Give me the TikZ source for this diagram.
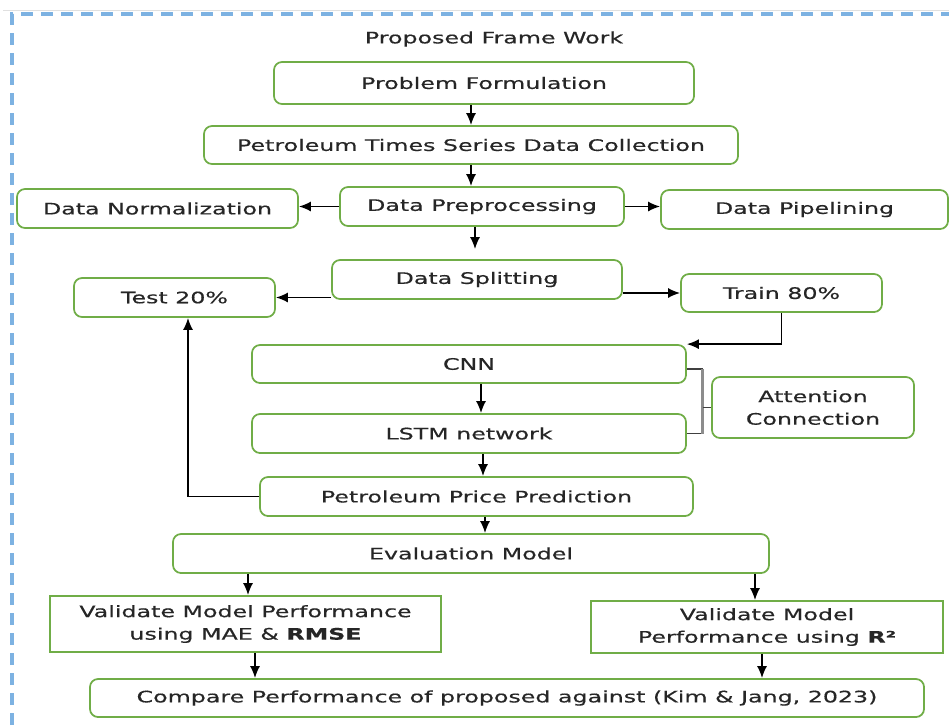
\documentclass[tikz,border=0pt]{standalone}
\usepackage{fontspec}
\setmainfont{DejaVu Sans}[FakeStretch=1.5,FakeBold=0.5]
\usetikzlibrary{arrows.meta}
\definecolor{boxgreen}{RGB}{112,173,71}
\definecolor{frameblue}{RGB}{125,178,226}
\definecolor{textgrey}{RGB}{38,38,38}
\begin{document}
\begin{tikzpicture}[x=0.2mm,y=-0.2mm,
    font=\fontsize{9}{12.8}\selectfont,text=textgrey,
    rbox/.style={draw=boxgreen,line width=0.35mm,rounded corners=1.6mm,inner sep=0pt,align=center},
    sbox/.style={draw=boxgreen,line width=0.35mm,inner sep=0pt,align=center},
    flow/.style={-{Latex[length=2.4mm,width=2mm]},line width=0.32mm},
    brace/.style={line width=0.3mm,draw=black!75}]
  \useasboundingbox (0,0) rectangle (949,725);
  \draw[black!12,line width=0.2mm] (3,10) -- (949,10);
  \draw[frameblue,line width=0.65mm,dash pattern=on 2.4mm off 1.6mm] (12,725) -- (12,14) -- (949,14);
  \node (title) at (494,39) {Proposed Frame Work};
  \node[rbox,minimum width=84mm,minimum height=8.4mm] (pf) at (484,83) {Problem Formulation};
  \node[rbox,minimum width=106.8mm,minimum height=7.6mm] (coll) at (471,145) {Petroleum Times Series Data Collection};
  \node[rbox,minimum width=56.2mm,minimum height=7.8mm] (norm) at (157.5,208.5) {Data Normalization};
  \node[rbox,minimum width=56.8mm,minimum height=7.8mm] (prep) at (482,206.5) {Data Preprocessing};
  \node[rbox,minimum width=57.4mm,minimum height=7.8mm] (pipe) at (804.5,209.5) {Data Pipelining};
  \node[rbox,minimum width=58mm,minimum height=7.8mm] (split) at (477,279.5) {Data Splitting};
  \node[rbox,minimum width=40.2mm,minimum height=7.8mm] (test) at (174.5,297.5) {Test 20\%};
  \node[rbox,minimum width=40.2mm,minimum height=7.6mm] (train) at (781.5,293) {Train 80\%};
  \node[rbox,minimum width=86.8mm,minimum height=7.6mm] (cnn) at (469,364) {CNN};
  \node[rbox,minimum width=86.8mm,minimum height=7.8mm] (lstm) at (469,433.5) {LSTM network};
  \node[rbox,minimum width=40.4mm,minimum height=12.2mm] (att) at (813,407.5) {Attention\\Connection};
  \node[rbox,minimum width=86.6mm,minimum height=7.8mm] (pred) at (476.5,496.5) {Petroleum Price Prediction};
  \node[rbox,minimum width=119.2mm,minimum height=7.8mm] (eval) at (471,553.5) {Evaluation Model};
  \node[sbox,minimum width=78.2mm,minimum height=11.2mm] (mae) at (245.5,624) {Validate Model Performance\\using MAE \& \textbf{RMSE}};
  \node[sbox,minimum width=70.4mm,minimum height=10.4mm] (rsq) at (767,627) {Validate Model\\Performance using \textbf{R²}};
  \node[rbox,minimum width=166.8mm,minimum height=7.6mm] (comp) at (507,698) {Compare Performance of proposed against (Kim \& Jang, 2023)};
  \begin{scope}[flow]
    \draw (pf.south -| coll.north) -- (coll.north);
    \draw (coll.south) -- (coll.south |- prep.north);
    \draw[shorten >=2mm] ([xshift=-0.4mm]prep.south -| split.north) -- ([xshift=-0.4mm]split.north);
    \draw (prep.west) -- (prep.west -| norm.east);
    \draw (prep.east) -- (prep.east -| pipe.west);
    \draw (test.east -| split.west) -- (test.east);
    \draw (train.west -| split.east) -- (train.west);
    \draw (train.south) |- (cnn.north east);
    \draw ([xshift=2.4mm]cnn.south) -- ([xshift=2.4mm]cnn.south |- lstm.north);
    \draw ([xshift=2.8mm]lstm.south) -- ([xshift=2.8mm]lstm.south |- pred.north);
    \draw (pred.west) -| ([xshift=2.7mm]test.south);
    \draw ([xshift=1.7mm]pred.south) -- ([xshift=1.7mm]pred.south |- eval.north);
    \draw ([xshift=0.5mm]mae.north |- eval.south) -- ([xshift=0.5mm]mae.north);
    \draw ([xshift=-2.4mm]rsq.north |- eval.south) -- ([xshift=-2.4mm]rsq.north);
    \draw ([xshift=1.9mm]mae.south) -- ([xshift=1.9mm]mae.south |- comp.north);
    \draw ([xshift=-1mm]rsq.south) -- ([xshift=-1mm]rsq.south |- comp.north);
  \end{scope}
  \draw[brace] ([yshift=-1mm]cnn.east) -- ++(16,0) coordinate (b1);
  \draw[brace] (lstm.east) -- ++(16,0) coordinate (b2);
  \draw[line width=0.6mm,black!45] (b1) -- (b2);
  \draw[brace] (b1 |- att.west) -- (att.west);
\end{tikzpicture}
\end{document}
